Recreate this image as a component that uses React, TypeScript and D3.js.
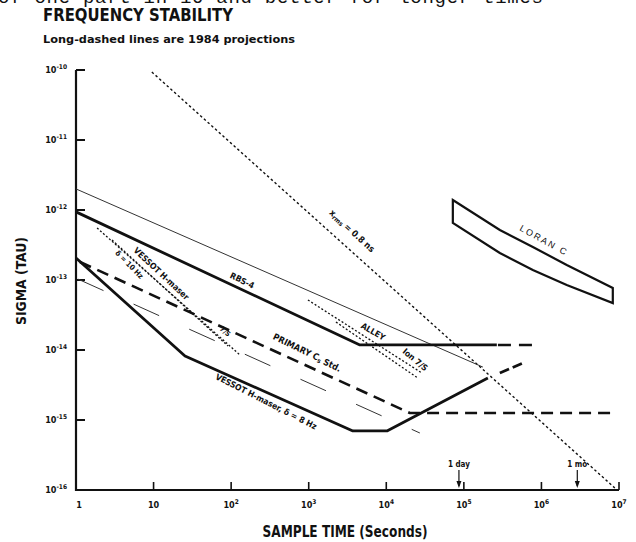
import React from "react";
import * as d3 from "d3";

// ---------- data ----------
const tauTicks = [1, 10, 100, 1e3, 1e4, 1e5, 1e6, 1e7];
const tauTickBase = ["1", "10", "10", "10", "10", "10", "10", "10"];
const tauTickExp = ["", "", "2", "3", "4", "5", "6", "7"];
const sigmaTicks = [1e-10, 1e-11, 1e-12, 1e-13, 1e-14, 1e-15, 1e-16];
const sigmaTickExp = ["-10", "-11", "-12", "-13", "-14", "-15", "-16"];

// [tau (s), sigma]
const xrmsLine = [[9.5, 9.35e-11], [8.83e6, 1.07e-16]];
const alleyThin = [[1, 2.0e-12], [1.76e5, 5.7e-15]];
const rbs4Solid = [[1, 9.4e-13], [4570, 1.18e-14], [2.66e5, 1.18e-14]];
const rbs4Proj = [[2.75e5, 1.18e-14], [8.7e5, 1.18e-14]];
const hmaserSolid = [[1, 2.06e-13], [25.4, 8.2e-15], [3710, 6.97e-16], [1.02e4, 6.97e-16], [2.04e5, 3.98e-15]];
const hmaserProj = [[2.91e5, 4.69e-15], [5.75e5, 6.5e-15]];
const csProj = [[1.126, 1.81e-13], [2.01e4, 1.26e-15], [8.83e6, 1.26e-15]];
const thinProj = [[1.06, 1.03e-13], [2.71e4, 6.52e-16]];
const vessotDotA = [[1.87, 5.53e-13], [130, 8.49e-15]];
const vessotDotB = [[2.91, 3.73e-13], [91, 1.14e-14]];
const ionDotA = [[977, 5.18e-14], [2.88e4, 4.69e-15]];
const ionDotB = [[2243, 2.51e-14], [2.55e4, 3.98e-15]];
const loranTop = [[7.21e4, 1.39e-12], [2.91e5, 5.18e-13], [7.75e5, 2.96e-13], [2.12e6, 1.64e-13], [8.32e6, 7.69e-14]];
const loranBottom = [[7.21e4, 6.52e-13], [2.91e5, 2.43e-13], [7.75e5, 1.39e-13], [2.12e6, 8.49e-14], [8.32e6, 4.69e-14]];

const markerTaus = [86400, 2.9e6];
const markerLabels = ["1 day", "1 mo"];

// labels: text, tau, sigma, angle
const curveLabels = [
  { key: "rbs", text: "RBS-4", tau: 138, sigma: 9.7e-14, angle: 26 },
  { key: "alley", text: "ALLEY", tau: 6720, sigma: 1.81e-14, angle: 30 },
  { key: "ion", text: "Ion 7/S", tau: 2.34e4, sigma: 7.2e-15, angle: 40 },
  { key: "cs", text: "PRIMARY C", tau: 948, sigma: 9.06e-15, angle: 26 },
  { key: "hm", text: "VESSOT H-maser, δ = 8 Hz", tau: 281, sigma: 1.81e-15, angle: 27 },
  { key: "vm", text: "VESSOT H-maser", tau: 12.5, sigma: 1.22e-13, angle: 43 },
  { key: "d10", text: "δ = 10 Hz", tau: 4.82, sigma: 1.64e-13, angle: 45 },
  { key: "small", text: "7/S", tau: 83, sigma: 1.81e-14, angle: 40 },
  { key: "loran", text: "LORAN C", tau: 1.07e6, sigma: 3.6e-13, angle: 29 },
  { key: "xrms", text: "x", tau: 3600, sigma: 5.0e-13, angle: 42 },
];

// ---------- layout ----------
const W = 636, H = 542;
const x = d3.scaleLog().domain([1, 1e7]).range([76, 619]);
const y = d3.scaleLog().domain([1e-16, 1e-10]).range([490, 70]);
const line = d3.line<number[]>().x(d => x(d[0])).y(d => y(d[1]));

const COND = "'Liberation Sans Narrow', 'DejaVu Sans Condensed', 'Arial Narrow', 'Liberation Sans', sans-serif";
const INK = "#111";

export default function App() {
  const loranPath = line(loranTop)! + "L" + line([...loranBottom].reverse())!.slice(1) + "Z";
  const labelStyle = { fontFamily: COND, fontWeight: 700, fill: INK, fontStretch: "condensed" as const };
  const renderLabel = (l: typeof curveLabels[number]) => {
    const tr = `translate(${x(l.tau)},${y(l.sigma)}) rotate(${l.angle})`;
    if (l.key === "xrms") {
      return (
        <text key={l.key} transform={tr} textAnchor="middle" dominantBaseline="middle" fontSize={9} {...labelStyle}>
          x<tspan fontSize={6.5} dy={2}>rms</tspan><tspan dy={-2}> = 0.8 ns</tspan>
        </text>
      );
    }
    if (l.key === "cs") {
      return (
        <text key={l.key} transform={tr} textAnchor="middle" dominantBaseline="middle" fontSize={9} {...labelStyle}>
          PRIMARY C<tspan fontSize={6.5} dy={2}>s</tspan><tspan dy={-2}> Std.</tspan>
        </text>
      );
    }
    if (l.key === "loran") {
      return (
        <text key={l.key} transform={tr} textAnchor="middle" dominantBaseline="middle" fontSize={9}
          fontFamily="'Liberation Sans', sans-serif" letterSpacing={2} fill={INK}>
          {l.text}
        </text>
      );
    }
    const fs = l.key === "small" ? 7 : l.key === "d10" ? 7.5 : 8.5;
    return (
      <text key={l.key} transform={tr} textAnchor="middle" dominantBaseline="middle" fontSize={fs} {...labelStyle}>
        {l.text}
      </text>
    );
  };

  return (
    <svg width={W} height={H} style={{ position: "absolute", left: 0, top: 0, background: "#fff" }}>
      {/* clipped header line */}
      <text x={-2} y={2.5} fontFamily="'Liberation Mono', 'DejaVu Sans Mono', monospace" fontSize={19} fill={INK}
        textLength={545} lengthAdjust="spacing">
        of one part in 10    and better for longer times
      </text>
      <text x={43} y={21} fontFamily={COND} fontSize={18} fontWeight={600} fill={INK} textLength={190} lengthAdjust="spacingAndGlyphs">
        FREQUENCY STABILITY
      </text>
      <text x={43} y={43} fontFamily={COND} fontSize={11} fontWeight={900} fill={INK} textLength={252} lengthAdjust="spacingAndGlyphs">
        Long-dashed lines are 1984 projections
      </text>

      {/* axes */}
      <path d={`M${x(1)},${y(1e-10)}V${y(1e-16)}H${x(1e7)}`} fill="none" stroke={INK} strokeWidth={2.2} />
      {sigmaTicks.map((s, i) => (
        <g key={"ys" + i}>
          <line x1={x(1)} x2={x(1) + 9} y1={y(s)} y2={y(s)} stroke={INK} strokeWidth={2} />
          <text x={67} y={y(s) + 3} textAnchor="end" fontFamily={COND} fontWeight={700} fontSize={9} fill={INK}>
            10<tspan fontSize={6.5} dy={-4}>{sigmaTickExp[i]}</tspan>
          </text>
        </g>
      ))}
      {tauTicks.map((t, i) => (
        <g key={"xt" + i}>
          {i > 0 && <line x1={x(t)} x2={x(t)} y1={y(1e-16)} y2={y(1e-16) - 8} stroke={INK} strokeWidth={1.6} />}
          <text x={x(t) + (i === 0 ? 3 : 0)} y={508} textAnchor="middle" fontFamily={COND} fontWeight={700} fontSize={9} fill={INK}>
            {tauTickBase[i]}
            {tauTickExp[i] && <tspan fontSize={6.5} dy={-4}>{tauTickExp[i]}</tspan>}
          </text>
        </g>
      ))}
      {markerTaus.map((t, i) => (
        <g key={"mk" + i}>
          <text x={x(t)} y={467} textAnchor="middle" fontFamily={COND} fontWeight={700} fontSize={8} fill={INK}>{markerLabels[i]}</text>
          <line x1={x(t)} x2={x(t)} y1={470} y2={486} stroke={INK} strokeWidth={1.2} />
          <path d={`M${x(t) - 2.5},${481}L${x(t)},${488}L${x(t) + 2.5},${481}Z`} fill={INK} />
        </g>
      ))}

      {/* axis titles */}
      <text transform="translate(26,281) rotate(-90)" textAnchor="middle" fontFamily={COND} fontWeight={700} fontSize={14} fill={INK} textLength={88} lengthAdjust="spacingAndGlyphs">
        SIGMA (TAU)
      </text>
      <text x={345} y={537} textAnchor="middle" fontFamily={COND} fontWeight={700} fontSize={16} fill={INK} textLength={165} lengthAdjust="spacingAndGlyphs">
        SAMPLE TIME (Seconds)
      </text>

      {/* curves */}
      <path d={line(xrmsLine)!} fill="none" stroke={INK} strokeWidth={1.4} strokeDasharray="2.5,2.5" />
      <path d={line(alleyThin)!} fill="none" stroke="#333" strokeWidth={1} />
      <path d={line(thinProj)!} fill="none" stroke="#333" strokeWidth={1} strokeDasharray="28,33" />
      <path d={line(rbs4Solid)!} fill="none" stroke={INK} strokeWidth={2.8} strokeLinejoin="round" />
      <path d={line(rbs4Proj)!} fill="none" stroke={INK} strokeWidth={2.6} strokeDasharray="13,8" />
      <path d={line(hmaserSolid)!} fill="none" stroke={INK} strokeWidth={2.8} strokeLinejoin="round" />
      <path d={line(hmaserProj)!} fill="none" stroke={INK} strokeWidth={2.8} strokeDasharray="10,4" />
      <path d={line(csProj)!} fill="none" stroke={INK} strokeWidth={2.6} strokeDasharray="12,7" />
      <path d={line(vessotDotA)!} fill="none" stroke={INK} strokeWidth={1.3} strokeDasharray="2,2" />
      <path d={line(vessotDotB)!} fill="none" stroke={INK} strokeWidth={1.3} strokeDasharray="2,2" />
      <path d={line(ionDotA)!} fill="none" stroke={INK} strokeWidth={1.3} strokeDasharray="2,2" />
      <path d={line(ionDotB)!} fill="none" stroke={INK} strokeWidth={1.3} strokeDasharray="2,2" />
      <path d={loranPath} fill="none" stroke={INK} strokeWidth={2.2} strokeLinejoin="miter" />

      {curveLabels.map(renderLabel)}
    </svg>
  );
}
